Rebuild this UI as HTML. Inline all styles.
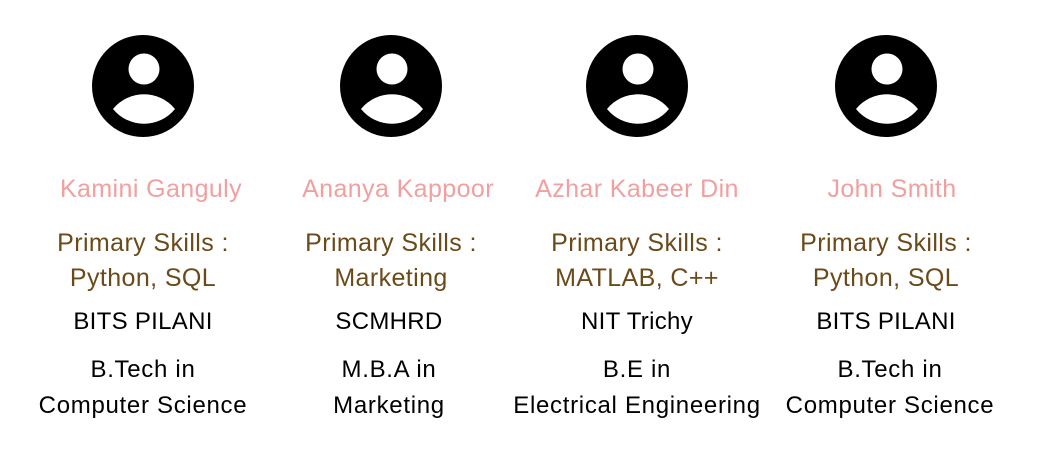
<!DOCTYPE html>
<html><head><meta charset="utf-8"><style>
body{margin:0;width:1047px;height:449px;background:#fff;font-family:"Liberation Sans","DejaVu Sans",sans-serif;position:relative;overflow:hidden}
.card{position:absolute;top:0;width:260px;text-align:center}
.card svg{position:absolute;top:34px;left:78px}
.t{position:absolute;left:-20px;width:300px;white-space:nowrap}
.name{top:175px;font-size:25px;letter-spacing:0.4px;color:#f0a0a0}
.sk1{top:229px;font-size:25px;letter-spacing:0.4px;color:#6b4a1a}
.sk2{top:264px;font-size:25px;letter-spacing:0.4px;color:#6b4a1a}
.ins{top:308px;font-size:24px;letter-spacing:0.3px;color:#000}
.d1{top:356px;font-size:24px;letter-spacing:0.7px;color:#000}
.d2{top:392px;font-size:24px;letter-spacing:0.7px;color:#000}
</style></head><body>
<div class="card" style="left:13px">
<svg width="104" height="104"><circle cx="52" cy="52" r="51"/><circle cx="53" cy="35" r="15.5" fill="#fff"/><path d="M22,75 A40,40 0 0 1 84,75 A40,40 0 0 1 22,75Z" fill="#fff"/></svg>
<div class="t name" style="left:-12px">Kamini Ganguly</div>
<div class="t sk1">Primary Skills :</div>
<div class="t sk2">Python, SQL</div>
<div class="t ins">BITS PILANI</div>
<div class="t d1">B.Tech in</div>
<div class="t d2">Computer Science</div>
</div>
<div class="card" style="left:268px">
<svg width="104" height="104" style="left:71px"><circle cx="52" cy="52" r="51"/><circle cx="53" cy="35" r="15.5" fill="#fff"/><path d="M22,75 A40,40 0 0 1 84,75 A40,40 0 0 1 22,75Z" fill="#fff"/></svg>
<div class="t name">Ananya Kappoor</div>
<div class="t sk1" style="left:-27px">Primary Skills :</div>
<div class="t sk2" style="left:-27px">Marketing</div>
<div class="t ins" style="left:-29px">SCMHRD</div>
<div class="t d1" style="left:-29px">M.B.A in</div>
<div class="t d2" style="left:-29px">Marketing</div>
</div>
<div class="card" style="left:507px">
<svg width="104" height="104"><circle cx="52" cy="52" r="51"/><circle cx="53" cy="35" r="15.5" fill="#fff"/><path d="M22,75 A40,40 0 0 1 84,75 A40,40 0 0 1 22,75Z" fill="#fff"/></svg>
<div class="t name">Azhar Kabeer Din</div>
<div class="t sk1">Primary Skills :</div>
<div class="t sk2">MATLAB, C++</div>
<div class="t ins">NIT Trichy</div>
<div class="t d1">B.E in</div>
<div class="t d2">Electrical Engineering</div>
</div>
<div class="card" style="left:756px">
<svg width="104" height="104"><circle cx="52" cy="52" r="51"/><circle cx="53" cy="35" r="15.5" fill="#fff"/><path d="M22,75 A40,40 0 0 1 84,75 A40,40 0 0 1 22,75Z" fill="#fff"/></svg>
<div class="t name" style="left:-14px">John Smith</div>
<div class="t sk1">Primary Skills :</div>
<div class="t sk2">Python, SQL</div>
<div class="t ins">BITS PILANI</div>
<div class="t d1" style="left:-16px">B.Tech in</div>
<div class="t d2" style="left:-16px">Computer Science</div>
</div>
</body></html>
